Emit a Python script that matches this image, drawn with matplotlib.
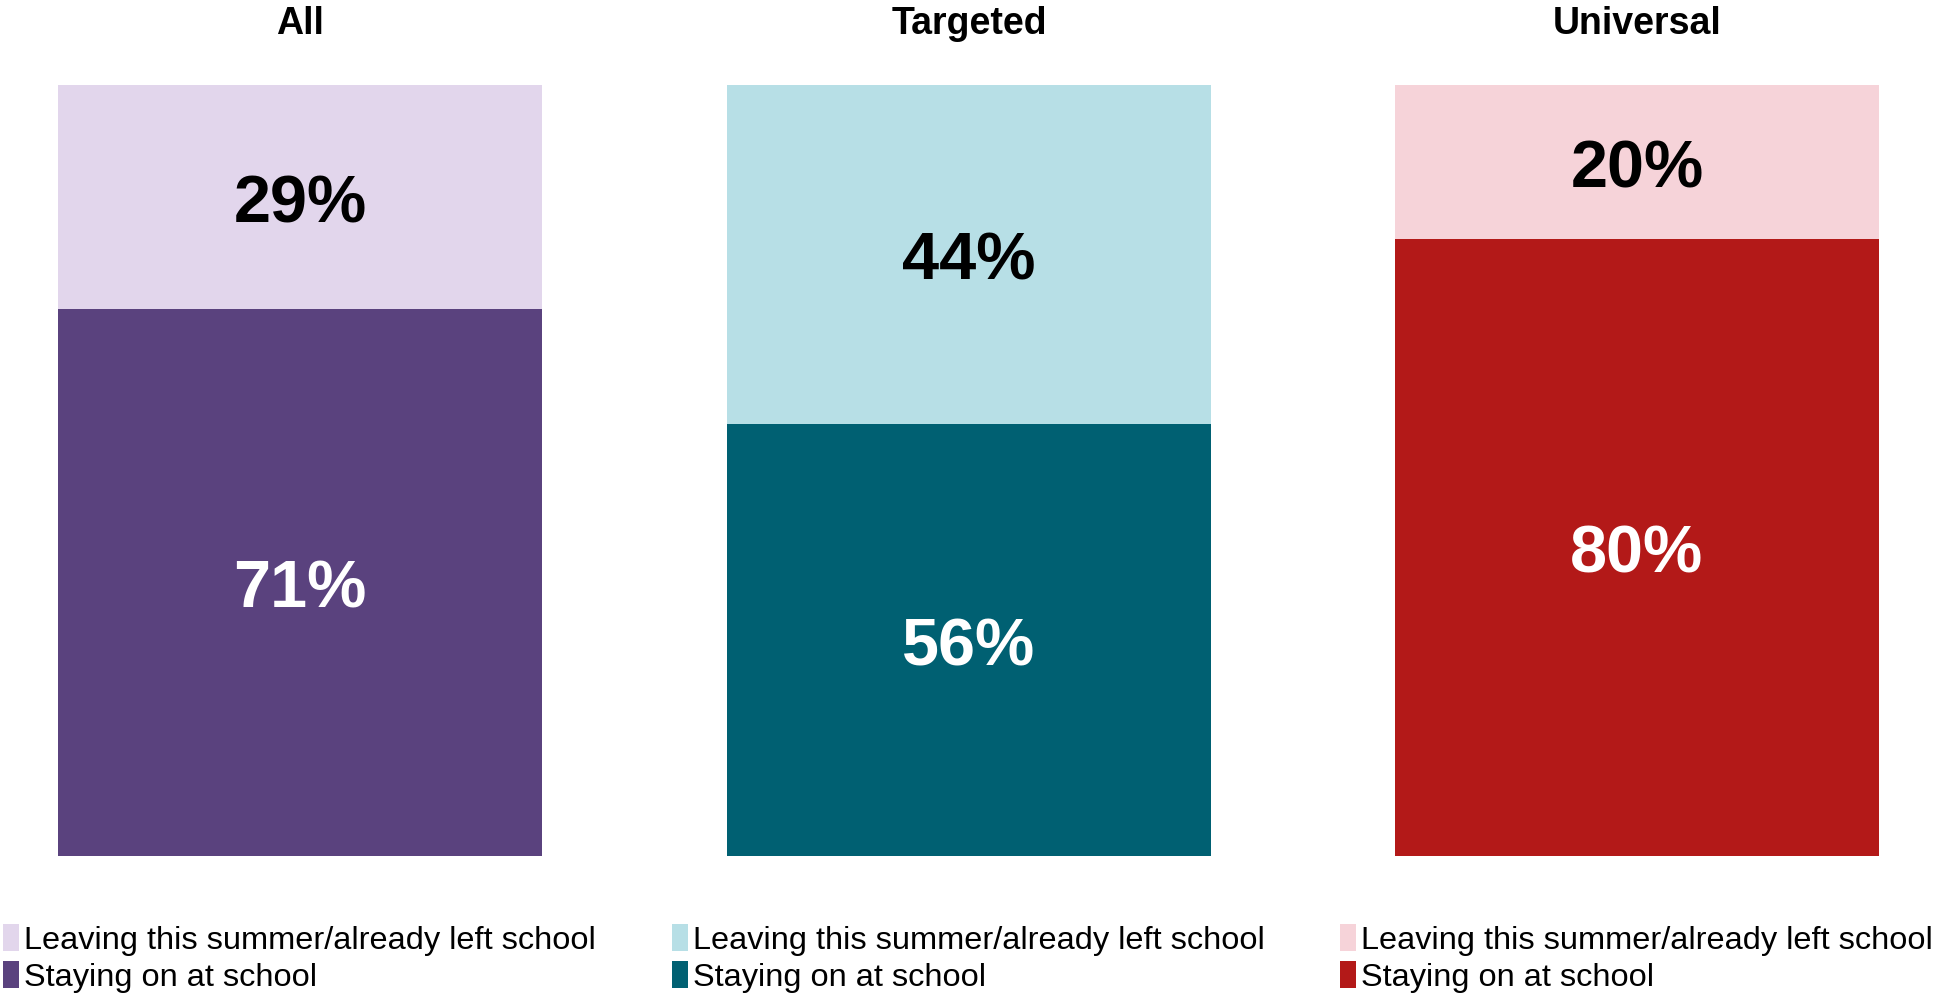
import matplotlib
matplotlib.use("Agg")
import matplotlib.pyplot as plt
from matplotlib.patches import Patch

plt.rcParams['font.family'] = ['Liberation Sans', 'DejaVu Sans']

panels = ["All", "Targeted", "Universal"]
staying = [71, 56, 80]
leaving = [29, 44, 20]
series_labels = ["Leaving this summer/already left school", "Staying on at school"]
dark_colors = ["#5A427E", "#006072", "#B31918"]
light_colors = ["#E2D6EC", "#B7DFE6", "#F6D3D9"]

W, H = 1946, 994
fig = plt.figure(figsize=(W / 100, H / 100), dpi=100)

bar_lefts = [58, 727, 1395]
bar_w = 484
top_px, bot_px = 85, 856

for i, name in enumerate(panels):
    ax = fig.add_axes([bar_lefts[i] / W, 1 - bot_px / H, bar_w / W, (bot_px - top_px) / H])
    ax.bar([0], [staying[i]], width=1.0, color=dark_colors[i], label=series_labels[1])
    ax.bar([0], [leaving[i]], bottom=[staying[i]], width=1.0, color=light_colors[i],
           label=series_labels[0])
    ax.set_xlim(-0.5, 0.5)
    ax.set_ylim(0, 100)
    ax.axis('off')
    ax.annotate(f"{staying[i]}%", (0, staying[i] / 2), xytext=(0, -6),
                textcoords='offset points', ha='center', va='center',
                fontsize=48, fontweight='bold', color='white')
    ax.annotate(f"{leaving[i]}%", (0, staying[i] + leaving[i] / 2), xytext=(0, -6),
                textcoords='offset points', ha='center', va='center',
                fontsize=48, fontweight='bold', color='black')
    cx = (bar_lefts[i] + bar_w / 2) / W
    fig.text(cx, 1 - 34 / H, name, ha='center', va='baseline', fontsize=27, fontweight='bold')

    handles = [Patch(facecolor=light_colors[i]), Patch(facecolor=dark_colors[i])]
    leg_x = (bar_lefts[i] - 55) / W
    fig.legend(handles, series_labels, loc='upper left', bbox_to_anchor=(leg_x, 1 - 924 / H),
               frameon=False, fontsize=23.4, handlelength=0.5, handleheight=0.9,
               handletextpad=0.15, labelspacing=0.17, borderpad=0, borderaxespad=0)

fig.savefig("out.png", dpi=100)
